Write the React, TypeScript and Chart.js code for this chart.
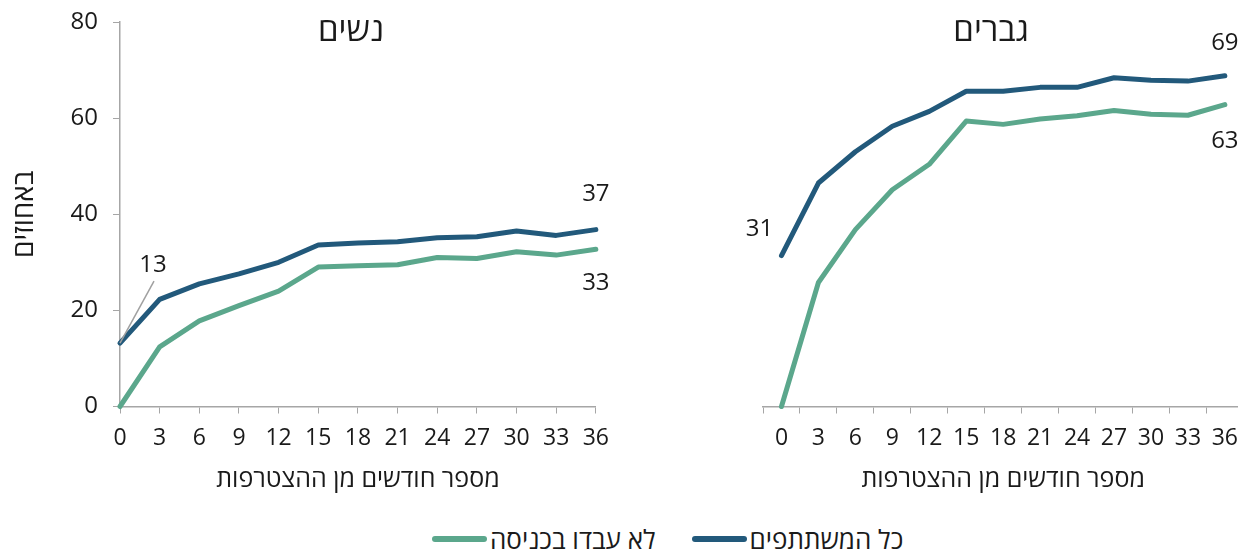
import React, { useEffect, useRef } from "react";
import { Chart, registerables } from "chart.js";

Chart.register(...registerables);

// ---------- data ----------
const months = ["0", "3", "6", "9", "12", "15", "18", "21", "24", "27", "30", "33", "36"];
const yTicks = [0, 20, 40, 60, 80];

const womenAll = [13.2, 22.3, 25.5, 27.6, 30.0, 33.6, 34.0, 34.3, 35.1, 35.3, 36.5, 35.6, 36.8];
const womenNotWorking = [0, 12.4, 17.8, 21.0, 24.0, 29.0, 29.3, 29.5, 31.0, 30.8, 32.2, 31.5, 32.7];
const menAll = [31.4, 46.5, 53.0, 58.3, 61.4, 65.6, 65.6, 66.4, 66.4, 68.4, 67.9, 67.7, 68.8];
const menNotWorking = [0, 25.8, 36.8, 45.1, 50.4, 59.4, 58.7, 59.8, 60.5, 61.6, 60.8, 60.6, 62.8];

const seriesAllLabel = "כל המשתתפים";
const seriesNotWorkingLabel = "לא עבדו בכניסה";
const womenTitle = "נשים";
const menTitle = "גברים";
const xTitle = "מספר חודשים מן ההצטרפות";
const yTitle = "באחוזים";

// ---------- styles ----------
const FONT = "'Open Sans', 'Noto Sans', 'DejaVu Sans', sans-serif";
const BLUE = "#22597b";
const GREEN = "#5ba78c";
const GRAY = "#a6a6a6";
const TXT = "#1a1a1a";

type Annot = { dataset: number; index: number; dx: number; dy: number; leader?: boolean };

const annotPlugin = {
  id: "annot",
  afterDatasetsDraw(chart: any, _args: any, opts: any) {
    const ctx = chart.ctx as CanvasRenderingContext2D;
    const { left, right, top } = chart.chartArea;
    ctx.save();
    if (opts.title) {
      ctx.font = `33px ${FONT}`;
      ctx.fillStyle = TXT;
      ctx.textAlign = "center";
      ctx.textBaseline = "middle";
      ctx.fillText(opts.title, (left + right) / 2 + opts.titleDx, top + opts.titleDy);
    }
    (opts.labels as Annot[]).forEach((a) => {
      const el = chart.getDatasetMeta(a.dataset).data[a.index];
      const v = chart.data.datasets[a.dataset].data[a.index] as number;
      const x = el.x;
      const y = el.y;
      if (a.leader) {
        ctx.strokeStyle = "#a0a0a0";
        ctx.lineWidth = 1.5;
        ctx.beginPath();
        ctx.moveTo(x, y);
        ctx.lineTo(x + a.dx + 1, y + a.dy + 16);
        ctx.stroke();
      }
      ctx.font = `24px ${FONT}`;
      ctx.fillStyle = TXT;
      ctx.textAlign = "center";
      ctx.textBaseline = "middle";
      ctx.fillText(String(Math.round(v)), x + a.dx, y + a.dy);
    });
    ctx.restore();
  },
};

function datasets(all: number[], notWorking: number[]) {
  const common = {
    borderWidth: 5,
    pointRadius: 0,
    pointHoverRadius: 0,
    tension: 0,
    borderJoinStyle: "round" as const,
    borderCapStyle: "round" as const,
    clip: false as const,
  };
  return [
    { label: seriesAllLabel, data: all, borderColor: BLUE, backgroundColor: BLUE, ...common },
    { label: seriesNotWorkingLabel, data: notWorking, borderColor: GREEN, backgroundColor: GREEN, ...common },
  ];
}

function xAxis(offset: boolean) {
  return {
    type: "category" as const,
    offset,
    grid: {
      display: true,
      offset,
      drawOnChartArea: false,
      drawTicks: true,
      tickLength: 7,
      color: GRAY,
      lineWidth: 1,
    },
    border: { display: true, color: GRAY, width: 1.5 },
    ticks: {
      color: TXT,
      font: { family: FONT, size: 23 },
      padding: 11,
      maxRotation: 0,
      autoSkip: false,
    },
    title: {
      display: true,
      text: xTitle,
      color: TXT,
      font: { family: FONT, size: 25 },
      padding: { top: 0, bottom: 5 },
    },
    afterFit(s: any) {
      s.height = 93.5;
    },
  };
}

function womenConfig(): any {
  return {
    type: "line",
    data: { labels: months, datasets: datasets(womenAll, womenNotWorking) },
    plugins: [annotPlugin],
    options: {
      responsive: false,
      animation: false,
      events: [],
      layout: { padding: { left: 0, top: 22, right: 22, bottom: 0 } },
      scales: {
        x: xAxis(false),
        y: {
          min: 0,
          max: 80,
          afterBuildTicks(s: any) {
            s.ticks = yTicks.map((v) => ({ value: v }));
          },
          grid: { drawOnChartArea: false, drawTicks: true, tickLength: 7, color: GRAY },
          border: { display: true, color: GRAY, width: 1.5 },
          ticks: { color: TXT, font: { family: FONT, size: 24 }, padding: 15 },
          title: {
            display: true,
            text: yTitle,
            color: TXT,
            font: { family: FONT, size: 28 },
            padding: { top: 8, bottom: 0 },
          },
          afterFit(s: any) {
            s.width = 120;
            s.paddingTop = 0;
            s.paddingBottom = 0;
          },
        },
      },
      plugins: {
        legend: { display: false },
        tooltip: { enabled: false },
        annot: {
          title: womenTitle,
          titleDx: -7,
          titleDy: 10,
          labels: [
            { dataset: 0, index: 0, dx: 33, dy: -78, leader: true },
            { dataset: 0, index: 12, dx: 0, dy: -35 },
            { dataset: 1, index: 12, dx: 0, dy: 34 },
          ],
        },
      },
    },
  };
}

function menConfig(): any {
  return {
    type: "line",
    data: { labels: months, datasets: datasets(menAll, menNotWorking) },
    plugins: [annotPlugin],
    options: {
      responsive: false,
      animation: false,
      events: [],
      layout: { padding: { left: 123, top: 22, right: 0, bottom: 0 } },
      scales: {
        x: xAxis(true),
        y: { display: false, min: 0, max: 80 },
      },
      plugins: {
        legend: { display: false },
        tooltip: { enabled: false },
        annot: {
          title: menTitle,
          titleDx: -12,
          titleDy: 10,
          labels: [
            { dataset: 0, index: 0, dx: -22, dy: -26 },
            { dataset: 0, index: 12, dx: 0, dy: -33 },
            { dataset: 1, index: 12, dx: 0, dy: 36 },
          ],
        },
      },
    },
  };
}

function Panel(props: { left: number; width: number; height: number; config: () => any }) {
  const ref = useRef<HTMLCanvasElement | null>(null);
  useEffect(() => {
    if (!ref.current) return;
    const chart = new Chart(ref.current, props.config());
    return () => chart.destroy();
  }, []);
  return (
    <div style={{ position: "absolute", left: props.left, top: 0, width: props.width, height: props.height }}>
      <canvas
        ref={ref}
        width={props.width}
        height={props.height}
        style={{ width: props.width, height: props.height, display: "block" }}
      />
    </div>
  );
}

function LegendItem(props: { color: string; text: string; gap: number }) {
  return (
    <div style={{ display: "flex", alignItems: "center", marginRight: props.gap }}>
      <span
        style={{ display: "inline-block", width: 55, height: 6, borderRadius: 3, background: props.color, marginRight: 3 }}
      />
      <span dir="rtl" style={{ fontFamily: FONT, fontSize: 26, color: TXT, lineHeight: "30px", whiteSpace: "nowrap" }}>
        {props.text}
      </span>
    </div>
  );
}

export default function App() {
  return (
    <div style={{ position: "absolute", left: 0, top: 0, width: 1238, height: 550, background: "#fff", overflow: "hidden" }}>
      <Panel left={0} width={620} height={500} config={womenConfig} />
      <Panel left={640} width={609} height={500} config={menConfig} />
      <div style={{ position: "absolute", left: 432, top: 524, display: "flex", alignItems: "center", direction: "ltr" }}>
        <LegendItem color={GREEN} text={seriesNotWorkingLabel} gap={36} />
        <LegendItem color={BLUE} text={seriesAllLabel} gap={0} />
      </div>
    </div>
  );
}
